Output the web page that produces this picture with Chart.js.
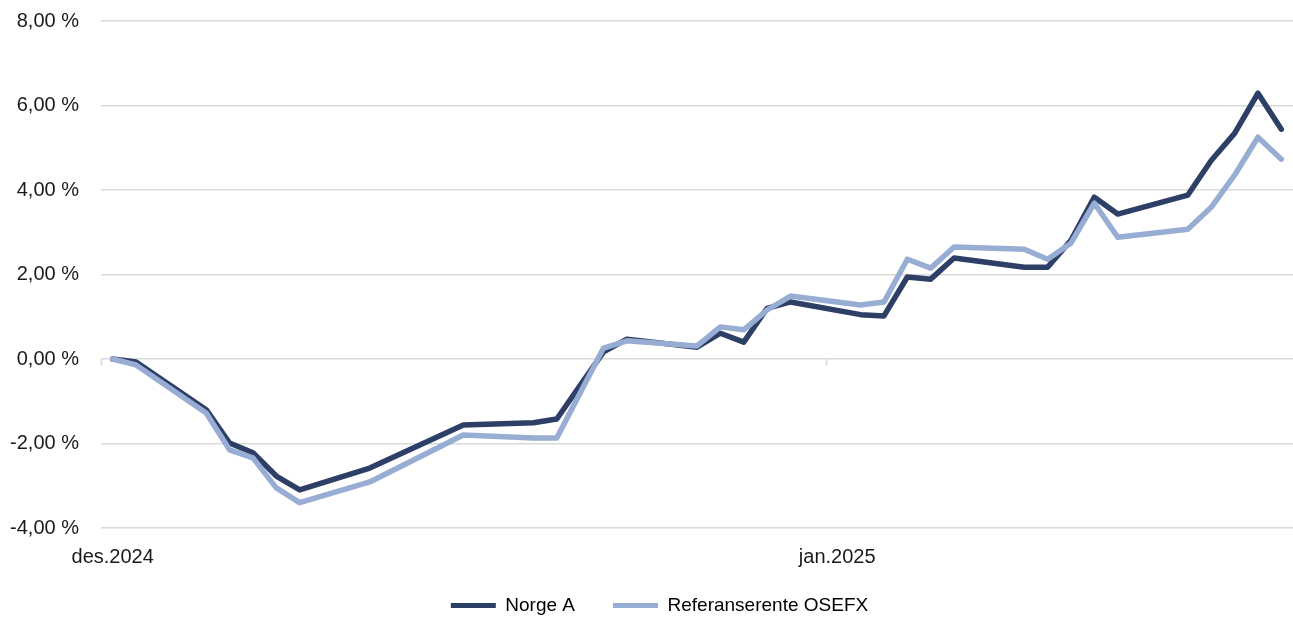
<!DOCTYPE html>
<html>
<head>
<meta charset="utf-8">
<script src="https://cdn.jsdelivr.net/npm/chart.js@4.4.1/dist/chart.umd.min.js"></script>
<style>
  html, body { margin: 0; padding: 0; background: #fff; }
  #wrap { width: 1293px; height: 619px; }
</style>
</head>
<body>
<div id="wrap"><canvas id="returnChart" width="1293" height="619"></canvas></div>
<script>
// Avkastning Norge A mot referanseindeks, des.2024 - jan.2025
// dager regnet fra 1. desember
const days = [0, 1, 4, 5, 6, 7, 8, 11, 15, 18, 19, 21, 22, 25, 26, 27, 28, 29,
              32, 33, 34, 35, 36, 39, 40, 41, 42, 43, 46, 47, 48, 49, 50];
const norgeA = [0.00, -0.07, -1.20, -1.99, -2.22, -2.77, -3.10, -2.58, -1.56, -1.51, -1.42,
                0.17, 0.47, 0.28, 0.61, 0.40, 1.20, 1.35, 1.05, 1.02, 1.94, 1.89, 2.39,
                2.17, 2.17, 2.81, 3.83, 3.43, 3.88, 4.70, 5.34, 6.29, 5.44];
const osefx = [0.00, -0.14, -1.28, -2.15, -2.34, -3.05, -3.40, -2.91, -1.80, -1.87, -1.87,
               0.26, 0.43, 0.31, 0.76, 0.69, 1.16, 1.49, 1.28, 1.35, 2.36, 2.15, 2.65,
               2.60, 2.36, 2.74, 3.69, 2.88, 3.07, 3.59, 4.35, 5.25, 4.73];
const seriesNames = ['Norge A', 'Referanserente OSEFX'];
const monthTickDays = [0, 31];
const monthTickLabels = ['des.2024', 'jan.2025'];
const yTicks = [-4, -2, 0, 2, 4, 6, 8];

const darkBlue = '#2d3f66';
const lightBlue = '#98add3';

function pct(v) {
    return v.toFixed(2).replace('.', ',') + ' %';
}

// små hakemerker på nullinjen ved månedsskiftet (som i Excel)
const zeroTicks = {
    id: 'zeroTicks',
    afterLayout(chart) {
        // legenden litt opp og til høyre, som i originalen
        chart.legend.left += 13;
        chart.legend.right += 13;
        chart.legend.top -= 20;
        chart.legend.bottom -= 20;
    },
    beforeDatasetsDraw(chart) {
        const x = chart.scales.x, y = chart.scales.y;
        const ctx = chart.ctx;
        const y0 = y.getPixelForValue(0);
        ctx.save();
        ctx.strokeStyle = '#d9d9d9';
        ctx.lineWidth = 1.5;
        monthTickDays.forEach(d => {
            const px = Math.round(x.getPixelForValue(d - 0.5)) + 0.5;
            ctx.beginPath();
            ctx.moveTo(px, y0);
            ctx.lineTo(px, y0 + 7);
            ctx.stroke();
        });
        ctx.restore();
    }
};

const ctx = document.getElementById('returnChart').getContext('2d');
const returnChart = new Chart(ctx, {
    type: 'line',
    data: {
        datasets: [{
            label: seriesNames[0],
            data: days.map((d, i) => ({ x: d, y: norgeA[i] })),
            borderColor: darkBlue,
            backgroundColor: darkBlue,
            borderWidth: 5.5,
            order: 1
        }, {
            label: seriesNames[1],
            data: days.map((d, i) => ({ x: d, y: osefx[i] })),
            borderColor: lightBlue,
            backgroundColor: lightBlue,
            borderWidth: 5.5,
            order: 0
        }]
    },
    options: {
        responsive: false,
        animation: false,
        devicePixelRatio: 1,
        elements: {
            point: { radius: 0 },
            line: { tension: 0, borderJoinStyle: 'round', borderCapStyle: 'round' }
        },
        layout: { padding: { top: 0, right: 0, left: 0, bottom: -26 } },
        scales: {
            x: {
                type: 'linear',
                min: -0.5,
                max: 50.5,
                grid: { display: false, drawTicks: false },
                border: { display: false },
                afterBuildTicks: (scale) => {
                    scale.ticks = monthTickDays.map(v => ({ value: v }));
                },
                afterFit: (scale) => { scale.height = 50; },
                ticks: {
                    autoSkip: false,
                    maxRotation: 0,
                    padding: 17,
                    color: '#1a1a1a',
                    font: { family: 'Liberation Sans', size: 20 },
                    callback: (v) => monthTickLabels[monthTickDays.indexOf(v)]
                }
            },
            y: {
                min: -4,
                max: 8,
                afterBuildTicks: (scale) => {
                    scale.ticks = yTicks.map(v => ({ value: v }));
                },
                afterFit: (scale) => {
                    scale.width = 101;
                    scale.paddingTop = 21;
                    scale.paddingBottom = 12;
                },
                grid: { color: '#d9d9d9', lineWidth: 1.5, drawTicks: false },
                border: { display: false },
                ticks: {
                    padding: 22,
                    color: '#1a1a1a',
                    font: { family: 'Liberation Sans', size: 20 },
                    callback: (v) => pct(v)
                }
            }
        },
        plugins: {
            tooltip: { enabled: false },
            legend: {
                position: 'bottom',
                labels: {
                    boxWidth: 45,
                    boxHeight: 5,
                    padding: 38,
                    color: '#000',
                    font: { family: 'Liberation Sans', size: 19 },
                    generateLabels: (chart) => chart.data.datasets.map((ds, i) => ({
                        text: ds.label,
                        fillStyle: ds.borderColor,
                        strokeStyle: ds.borderColor,
                        lineWidth: 0,
                        datasetIndex: i
                    }))
                }
            }
        }
    },
    plugins: [zeroTicks]
});
</script>
</body>
</html>
